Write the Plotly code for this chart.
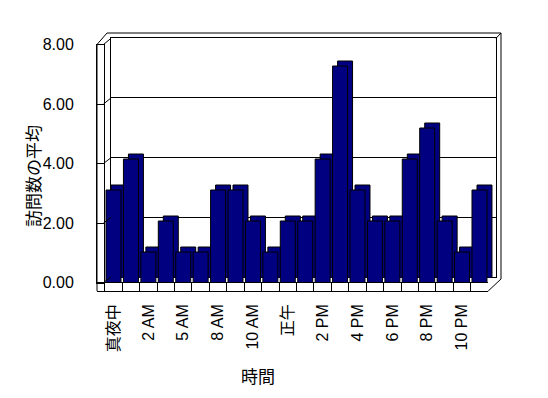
import plotly.graph_objects as go

# ---- data ----
hours = ["真夜中", "1 AM", "2 AM", "4 AM", "5 AM", "7 AM", "8 AM", "9 AM", "10 AM", "11 AM",
         "正午", "1 PM", "2 PM", "3 PM", "4 PM", "5 PM", "6 PM", "7 PM", "8 PM", "9 PM",
         "10 PM", "11 PM"]
visits = [3, 4, 1, 2, 1, 1, 3, 3, 2, 1, 2, 2, 4, 7, 3, 2, 2, 4, 5, 2, 1, 3]
shown_labels = hours[::2]
y_ticks = [0, 2, 4, 6, 8]

W, H = 548, 398
def fx(x): return x / W
def fy(y): return 1 - y / H

NAVY = "#000080"
FONT = "Liberation Sans, Arial, Noto Sans CJK JP, sans-serif"
CLEAR = "rgba(0,0,0,0)"

# geometry (pixels)
BX0, BX1 = 104.8, 488.2      # bar (front) category band
BY0, BY1 = 283.0, 35.0       # bar value 0 -> 8
DX, DY = 5, 5                # depth offset
WALL_X0, WALL_X1 = 111, 496  # back wall
WALL_Y0, WALL_Y1 = 277, 38.3
FX0, FX1 = 97, 103.5         # left wall front
FY0, FY1 = 282.5, 44.5
FLOOR_Y0, FLOOR_Y1 = 291, 282.5

fig = go.Figure()

fig.add_trace(go.Scatter(x=[], y=[], xaxis="x", yaxis="y", showlegend=False, hoverinfo="skip"))
fig.add_trace(go.Bar(x=hours, y=visits, xaxis="x2", yaxis="y2",
                     marker=dict(color=NAVY, line=dict(color="black", width=1)),
                     showlegend=False, hoverinfo="skip"))
fig.add_trace(go.Bar(x=hours, y=visits, xaxis="x3", yaxis="y3",
                     marker=dict(color=NAVY, line=dict(color="black", width=1)),
                     showlegend=False, hoverinfo="skip"))
fig.add_trace(go.Scatter(x=[], y=[], xaxis="x4", yaxis="y4", showlegend=False, hoverinfo="skip"))
fig.add_trace(go.Scatter(x=[], y=[], xaxis="x5", yaxis="y5", showlegend=False, hoverinfo="skip"))

line_kw = dict(showline=True, linecolor="black", linewidth=1, mirror=True, zeroline=False, automargin=False)
hidden = dict(showgrid=False, showticklabels=False, ticks="", zeroline=False, showline=False, automargin=False)

pitch = (BX1 - BX0) / len(hours)
floor_left = -0.5 - (BX0 - FX0) / pitch

fig.update_layout(
    template="none",
    width=W, height=H, autosize=False,
    margin=dict(l=0, r=0, t=0, b=0, pad=0),
    paper_bgcolor="white", plot_bgcolor=CLEAR,
    bargap=0.14,
    font=dict(family=FONT, size=16, color="black"),
    xaxis=dict(domain=[fx(WALL_X0), fx(WALL_X1)], range=[0, 1], anchor="y", showgrid=False,
               showticklabels=False, ticks="", **line_kw),
    yaxis=dict(domain=[fy(WALL_Y0), fy(WALL_Y1)], range=[0, 8], anchor="x", tickvals=y_ticks,
               showgrid=True, gridcolor="black", gridwidth=1, showticklabels=False, ticks="", **line_kw),
    xaxis2=dict(domain=[fx(BX0 + DX), fx(BX1 + DX)], anchor="y2", type="category", **hidden),
    yaxis2=dict(domain=[fy(BY0 - DY), fy(BY1 - DY)], range=[0, 8], anchor="x2", **hidden),
    xaxis3=dict(domain=[fx(BX0), fx(BX1)], anchor="y3", type="category", tickvals=shown_labels,
                ticktext=shown_labels, tickangle=-90, showgrid=False, ticks="", zeroline=False,
                showline=False, automargin=False, ticklabelstandoff=17, tickfont=dict(size=16)),
    yaxis3=dict(domain=[fy(BY0), fy(BY1)], range=[0, 8], anchor="x3", **hidden),
    xaxis4=dict(domain=[fx(FX0), fx(FX1)], range=[0, 1], anchor="y4", showgrid=False,
                showticklabels=False, ticks="", **line_kw),
    yaxis4=dict(domain=[fy(FY0), fy(FY1)], range=[0, 8], anchor="x4", tickvals=y_ticks,
                tickformat=".2f", showgrid=True, gridcolor="black", gridwidth=1, ticks="",
                ticklabelstandoff=19, tickfont=dict(size=16), **line_kw),
    xaxis5=dict(domain=[fx(FX0), fx(BX1)], range=[floor_left, len(hours) - 0.5], anchor="y5",
                tick0=0.5, dtick=1, showgrid=True, gridcolor="black", gridwidth=1,
                showticklabels=False, ticks="", **line_kw),
    yaxis5=dict(domain=[fy(FLOOR_Y0), fy(FLOOR_Y1)], range=[0, 1], anchor="x5", **hidden),
)

shapes = []
def seg(x0, y0, x1, y1):
    shapes.append(dict(type="line", xref="paper", yref="paper", x0=fx(x0), y0=fy(y0), x1=fx(x1), y1=fy(y1),
                       line=dict(color="black", width=1)))
for v in y_ticks:
    yf = FY0 + (FY1 - FY0) * v / 8
    yb = WALL_Y0 + (WALL_Y1 - WALL_Y0) * v / 8
    seg(FX1, yf, WALL_X0, yb)
seg(FX0, FY1, 107, 33)
seg(107, 33, 501, 33)
seg(WALL_X1, WALL_Y1, 501, 33)
seg(501, 33, 501, 279)
seg(BX1, FLOOR_Y0, 501, 279)
seg(FX0, FY1, FX0, FLOOR_Y0)
fig.update_layout(shapes=shapes)

fig.add_annotation(text="訪問数の平均", xref="paper", yref="paper", x=fx(32), y=fy(176), textangle=-90,
                   xanchor="center", yanchor="middle",
                   showarrow=False, font=dict(size=17, family="Noto Sans CJK JP"))
fig.add_annotation(text="時間", xref="paper", yref="paper", x=fx(258), y=fy(375),
                   xanchor="center", yanchor="middle",
                   showarrow=False, font=dict(size=17, family="Noto Sans CJK JP"))

fig.write_html("out.html", config={"displayModeBar": False},
               post_script="document.body.style.margin='0';document.body.style.overflow='hidden';")
